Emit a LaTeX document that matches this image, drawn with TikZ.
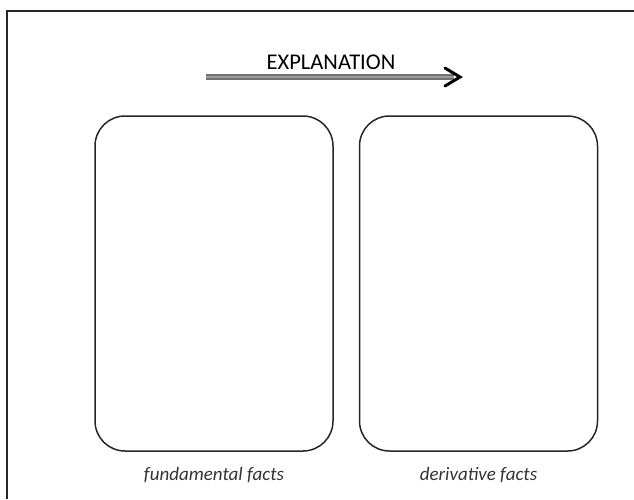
\documentclass[tikz,border=0pt]{standalone}
\usepackage{fontspec}
\setmainfont{Carlito}
\usepackage{tikz}
\usetikzlibrary{arrows.meta, positioning}

\begin{document}
\begin{tikzpicture}[x=1pt, y=-1pt, node distance=13pt,
    factbox/.style={draw=black!85, line width=1.5pt, rectangle, rounded corners=30pt, minimum width=238pt, minimum height=335pt},
    factlabel/.style={font=\fontsize{19}{22}\selectfont\itshape, text=black!80},
    every node/.style={inner sep=2pt}]
            \useasboundingbox (0,0) rectangle (634,499);
            % frame (cropped)
            \coordinate (frametop) at (7,11);
            \draw[line width=1.2pt, black!85] (7,499) -- (frametop) -- (634,11);

            % arrow
            \coordinate (expstart) at (206,77);
            \coordinate (expend) at (460,77);
            \draw[black!55, line width=2pt, double=black!40, double distance=1.3pt] (expstart) -- ([xshift=-6pt]expend);
            \draw[line width=3pt, line cap=round, line join=miter] ([xshift=-15pt, yshift=-9pt]expend) -- (expend) -- ([xshift=-15pt, yshift=9pt]expend);
            \node (explabel) at (331,62) {\fontsize{22.5}{24}\selectfont EXPLANATION};

            % blocks
            \node (fundbox) [factbox] at (214,283.5) {};
            \node (derivbox) [factbox] at (478.5,283.5) {};

            % labels
            \node (fundlabel) [factlabel, below=of fundbox] {fundamental facts};
            \node (derivlabel) [factlabel, below=of derivbox] {derivative facts};
\end{tikzpicture}
\end{document}
